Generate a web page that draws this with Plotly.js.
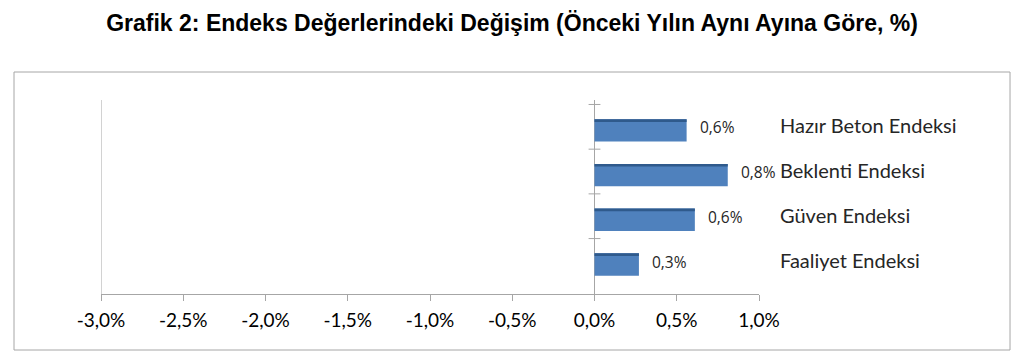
<!DOCTYPE html>
<html>
<head>
<meta charset="utf-8">
<script src="https://cdn.plot.ly/plotly-3.0.1.min.js"></script>
<style>html,body{margin:0;padding:0;background:#fff;}#chart{width:1024px;height:358px;}</style>
</head>
<body>
<div id="chart"></div>
<script>
// Data (top to bottom)
const categories = ['Hazır Beton Endeksi', 'Beklenti Endeksi', 'Güven Endeksi', 'Faaliyet Endeksi'];
const values = [0.56, 0.81, 0.61, 0.27];
const valueLabels = ['0,6%', '0,8%', '0,6%', '0,3%'];
const xTickVals = [-3.0, -2.5, -2.0, -1.5, -1.0, -0.5, 0.0, 0.5, 1.0];
const xTickText = ['-3,0%', '-2,5%', '-2,0%', '-1,5%', '-1,0%', '-0,5%', '0,0%', '0,5%', '1,0%'];
const titleText = 'Grafik 2: Endeks Değerlerindeki Değişim (Önceki Yılın Aynı Ayına Göre, %)';

const idx = categories.map((c, i) => i);

const mainBars = {
  type: 'bar', orientation: 'h',
  x: values, y: idx,
  width: 0.5, offset: -0.25,
  marker: {color: '#4F81BD', line: {width: 0}},
  hoverinfo: 'skip', showlegend: false
};
const topEdge = {
  type: 'bar', orientation: 'h',
  x: values, y: idx,
  width: 0.06, offset: -0.25,
  marker: {color: '#2F5A8C', line: {width: 0}},
  hoverinfo: 'skip', showlegend: false
};

const annotations = values.map((v, i) => ({
  x: v, y: i, xref: 'x', yref: 'y',
  text: valueLabels[i], showarrow: false,
  xanchor: 'left', yanchor: 'middle', xshift: 11, yshift: 3,
  font: {family: 'Open Sans', size: 15.5, color: '#262626'}
}));

const shapes = [
  // outer chart frame
  {type: 'rect', xref: 'paper', yref: 'paper', x0: -0.1322, x1: 1.3815, y0: -0.2887, y1: 1.1443,
   line: {color: '#A6A6A6', width: 1}, fillcolor: 'rgba(0,0,0,0)', layer: 'below'},
  // left vertical line of plot area
  {type: 'line', xref: 'x', yref: 'paper', x0: -3, x1: -3, y0: 0, y1: 1,
   line: {color: '#A6A6A6', width: 1}}
];
// small tick marks on the category axis (at zero)
idx.forEach(i => {
  shapes.push({type: 'line', xref: 'x', yref: 'y', x0: -0.036, x1: 0.036, y0: i - 0.58, y1: i - 0.58,
    line: {color: '#A6A6A6', width: 1}});
});

const layout = {
  width: 1024, height: 358,
  margin: {l: 101, r: 265, t: 100, b: 64},
  paper_bgcolor: '#ffffff', plot_bgcolor: '#ffffff',
  barmode: 'overlay',
  title: {
    text: '<b>' + titleText + '</b>',
    x: 0.5, xanchor: 'center', xref: 'container', y: 1 - 23 / 358, yanchor: 'middle',
    font: {family: 'Liberation Sans', size: 23, color: '#000000'}
  },
  xaxis: {
    range: [-3, 1], tickvals: xTickVals, ticktext: xTickText,
    showgrid: false, zeroline: true, zerolinecolor: '#A6A6A6', zerolinewidth: 1,
    showline: true, linecolor: '#A6A6A6', linewidth: 1,
    ticks: 'outside', ticklen: 6, tickcolor: '#A6A6A6', ticklabelstandoff: 3,
    tickfont: {family: 'Lato', size: 19, color: '#000000'},
    fixedrange: true
  },
  yaxis: {
    range: [3.66, -0.68], side: 'right',
    tickvals: idx, ticktext: categories,
    showgrid: false, zeroline: false, showline: false, ticks: '',
    ticklabelstandoff: 20, ticklabelshift: 4,
    tickfont: {family: 'Lato', size: 20, color: '#262626'},
    fixedrange: true
  },
  annotations: annotations,
  shapes: shapes
};

Plotly.newPlot('chart', [mainBars, topEdge], layout, {displayModeBar: false, staticPlot: true});
</script>
</body>
</html>
